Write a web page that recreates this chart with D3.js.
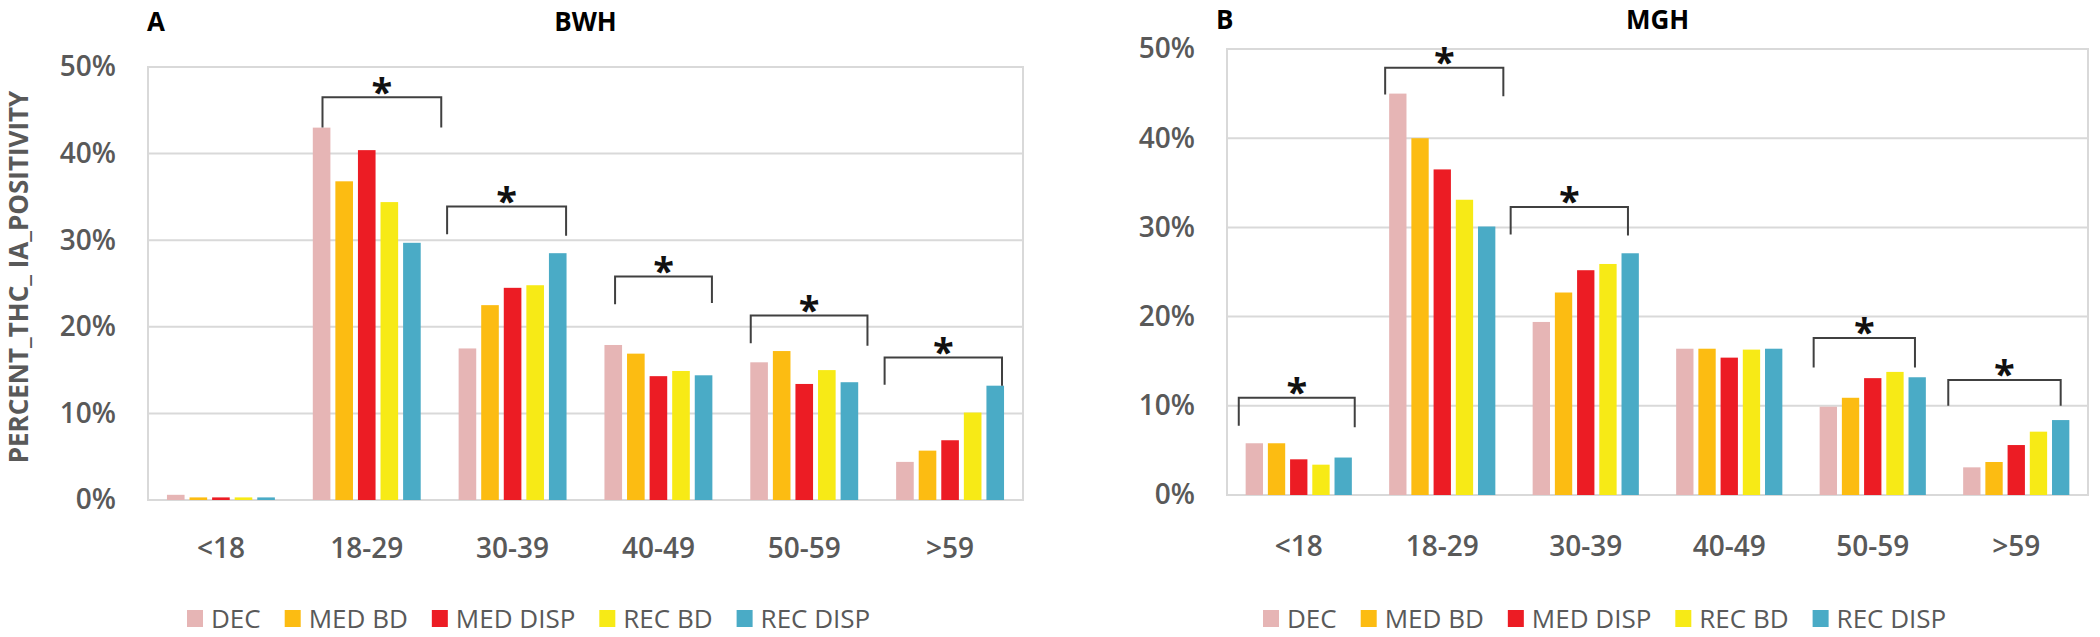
<!DOCTYPE html>
<html>
<head>
<meta charset="utf-8">
<script src="https://cdn.jsdelivr.net/npm/d3@7"></script>
<style>
  body { margin: 0; background: #fff; }
  svg text { font-family: "Open Sans", sans-serif; }
</style>
</head>
<body>
<svg id="chart" width="2100" height="637"></svg>
<script>
// categories and series
const ageGroups = ["<18", "18-29", "30-39", "40-49", "50-59", ">59"];
const seriesNames = ["DEC", "MED BD", "MED DISP", "REC BD", "REC DISP"];
const seriesColors = ["#e6b5b5", "#fcbc12", "#ec1c24", "#f7ea16", "#4aabc6"];
const yTicks = [0, 10, 20, 30, 40, 50];

// BWH (panel A), percent positive
const bwhDec     = [0.6, 43.0, 17.5, 17.9, 15.9, 4.4];
const bwhMedBd   = [0.3, 36.8, 22.5, 16.9, 17.2, 5.7];
const bwhMedDisp = [0.3, 40.4, 24.5, 14.3, 13.4, 6.9];
const bwhRecBd   = [0.3, 34.4, 24.8, 14.9, 15.0, 10.1];
const bwhRecDisp = [0.3, 29.7, 28.5, 14.4, 13.6, 13.2];

// MGH (panel B), percent positive
const mghDec     = [5.8, 45.0, 19.4, 16.4, 9.9, 3.1];
const mghMedBd   = [5.8, 40.0, 22.7, 16.4, 10.9, 3.7];
const mghMedDisp = [4.0, 36.5, 25.2, 15.4, 13.1, 5.6];
const mghRecBd   = [3.4, 33.1, 25.9, 16.3, 13.8, 7.1];
const mghRecDisp = [4.2, 30.1, 27.1, 16.4, 13.2, 8.4];

// significance brackets: group, bar-slot span (0 = DEC ... 4 = REC DISP), level %, feet %
const bwhSigGroups = ["18-29", "30-39", "40-49", "50-59", ">59"];
const bwhSigSlots  = [[0.04, 5.3], [-0.9, 4.37], [0.08, 4.37], [-0.37, 4.8], [-0.9, 4.3]];
const bwhSigLevel  = [46.5, 33.9, 25.8, 21.3, 16.45];
const bwhSigFeet   = [[43.0, 43.0], [30.7, 30.5], [22.6, 22.75], [18.1, 17.8], [13.3, 13.2]];

const mghSigGroups = ["<18", "18-29", "30-39", "50-59", ">59"];
const mghSigSlots  = [[-0.7, 4.52], [-0.57, 4.75], [-1.38, 3.9], [-0.66, 3.9], [-1.06, 4.0]];
const mghSigLevel  = [10.9, 47.9, 32.3, 17.6, 12.9];
const mghSigFeet   = [[7.75, 7.6], [44.9, 44.7], [29.2, 29.1], [14.3, 14.3], [10.0, 10.0]];

const svg = d3.select("#chart");
const grey = "#595959";

const drawPanel = (p) => {
  const g = svg.append("g");

  const x0 = d3.scaleBand().domain(ageGroups)
    .range([p.left, p.right]).paddingInner(0.26).paddingOuter(0.13);
  const x1 = d3.scaleBand().domain(seriesNames)
    .range([0, x0.bandwidth()]).paddingInner(0.22).paddingOuter(0);
  const y = d3.scaleLinear().domain([0, 50]).range([p.bottom, p.top]);

  // grid
  g.append("g").selectAll("line")
    .data(yTicks)
    .enter().append("line")
    .attr("x1", p.left).attr("x2", p.right)
    .attr("y1", d => y(d)).attr("y2", d => y(d))
    .attr("stroke", "#d9d9d9").attr("stroke-width", 2);

  g.append("rect")
    .attr("x", p.left).attr("y", p.top)
    .attr("width", p.right - p.left).attr("height", p.bottom - p.top)
    .attr("fill", "none").attr("stroke", "#d9d9d9").attr("stroke-width", 2);

  // y axis labels
  const yAxis = g.append("g")
    .attr("transform", `translate(${p.left},0)`)
    .call(d3.axisLeft(y).tickValues(yTicks).tickFormat(d => d + "%").tickSize(0).tickPadding(32));
  yAxis.select(".domain").remove();
  yAxis.selectAll("text")
    .attr("font-family", "Open Sans").attr("font-size", 28).attr("font-weight", 600)
    .attr("fill", grey);

  // category labels
  const xAxis = g.append("g")
    .attr("transform", `translate(0,${p.bottom})`)
    .call(d3.axisBottom(x0).tickSize(0));
  xAxis.select(".domain").remove();
  xAxis.selectAll("text")
    .attr("y", p.labelGap).attr("dy", null)
    .attr("font-family", "Open Sans").attr("font-size", 28).attr("font-weight", 600)
    .attr("fill", grey);

  // bars
  const rows = ageGroups.map((a, i) => ({
    group: a,
    vals: seriesNames.map((s, j) => ({series: s, color: seriesColors[j], value: p.values[j][i]}))
  }));

  g.append("g").selectAll("g")
    .data(rows)
    .enter().append("g")
    .attr("transform", d => `translate(${x0(d.group)},0)`)
    .selectAll("rect")
    .data(d => d.vals)
    .enter().append("rect")
    .attr("x", d => x1(d.series))
    .attr("width", x1.bandwidth())
    .attr("y", d => y(d.value))
    .attr("height", d => y(0) - y(d.value))
    .attr("fill", d => d.color);

  // significance brackets
  const slotX = (grp, s) => x0(grp) + x1.bandwidth() / 2 + s * x1.step();
  p.sigGroups.forEach((grp, i) => {
    const xl = slotX(grp, p.sigSlots[i][0]);
    const xr = slotX(grp, p.sigSlots[i][1]);
    const yl = y(p.sigLevel[i]);
    const path = d3.path();
    path.moveTo(xl, y(p.sigFeet[i][0]));
    path.lineTo(xl, yl);
    path.lineTo(xr, yl);
    path.lineTo(xr, y(p.sigFeet[i][1]));
    g.append("path")
      .attr("d", path.toString())
      .attr("fill", "none").attr("stroke", "#404040").attr("stroke-width", 2);
    g.append("text")
      .attr("x", (xl + xr) / 2)
      .attr("y", yl - 14 + 0.59 * 38)
      .attr("text-anchor", "middle")
      .attr("font-family", "DejaVu Sans").attr("font-size", 38).attr("font-weight", 700)
      .attr("fill", "#111")
      .text("*");
  });

  // panel letter and title
  g.append("text")
    .attr("x", p.letterX).attr("y", p.titleY)
    .attr("font-size", 26).attr("font-weight", 700).attr("fill", "#000")
    .text(p.letter);
  g.append("text")
    .attr("x", (p.left + p.right) / 2).attr("y", p.titleY)
    .attr("text-anchor", "middle")
    .attr("font-size", 26).attr("font-weight", 700).attr("fill", "#000")
    .text(p.title);

  // legend
  const legend = g.append("g").attr("transform", `translate(${p.legendX},${p.legendY})`);
  let cx = 0;
  seriesNames.forEach((s, j) => {
    legend.append("rect")
      .attr("x", cx).attr("y", -18).attr("width", 16).attr("height", 17)
      .attr("fill", seriesColors[j]);
    const t = legend.append("text")
      .attr("x", cx + 24).attr("y", 0)
      .attr("font-size", 26).attr("fill", grey)
      .text(s);
    cx += 24 + t.node().getComputedTextLength() + 24;
  });
};

drawPanel({
  left: 148, right: 1023, top: 67, bottom: 500, labelGap: 58,
  values: [bwhDec, bwhMedBd, bwhMedDisp, bwhRecBd, bwhRecDisp],
  sigGroups: bwhSigGroups, sigSlots: bwhSigSlots, sigLevel: bwhSigLevel, sigFeet: bwhSigFeet,
  letter: "A", letterX: 147, title: "BWH", titleY: 31,
  legendX: 187, legendY: 628
});

drawPanel({
  left: 1227, right: 2088, top: 49, bottom: 495, labelGap: 61,
  values: [mghDec, mghMedBd, mghMedDisp, mghRecBd, mghRecDisp],
  sigGroups: mghSigGroups, sigSlots: mghSigSlots, sigLevel: mghSigLevel, sigFeet: mghSigFeet,
  letter: "B", letterX: 1216, title: "MGH", titleY: 29,
  legendX: 1263, legendY: 628
});

// shared y axis title
svg.append("text")
  .attr("transform", "translate(28,277) rotate(-90)")
  .attr("text-anchor", "middle")
  .attr("font-size", 26).attr("font-weight", 700).attr("fill", grey)
  .text("PERCENT_THC_ IA_POSITIVITY");
</script>
</body>
</html>
